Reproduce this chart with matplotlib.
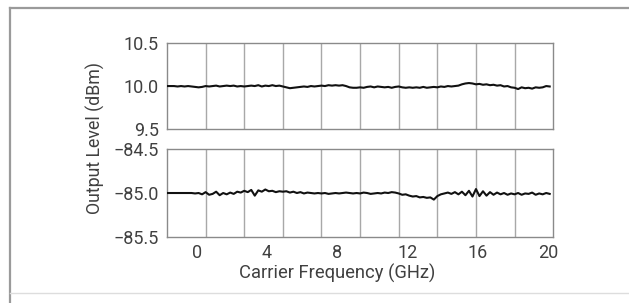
import matplotlib.pyplot as plt
import numpy as np
from matplotlib.lines import Line2D

plt.rcParams['font.family'] = ['Roboto', 'DejaVu Sans']

# trace samples (GHz span -1.7 .. 20.1)
level_high = [10.00, 10.00, 10.00, 9.995, 10.00, 9.995, 10.00, 9.995, 9.99, 9.985,
              9.99, 10.00, 9.995, 10.00, 10.005, 9.995, 10.00, 10.005, 10.00, 10.005,
              9.995, 10.00, 9.995, 10.00, 10.005, 10.00, 10.01, 9.995, 10.005, 10.00,
              10.01, 10.00, 10.005, 9.995, 9.985, 9.975, 9.98, 9.985, 9.99, 9.995,
              9.99, 10.00, 9.995, 10.00, 10.005, 10.00, 10.01, 10.005, 10.01, 10.005,
              10.01, 10.00, 9.985, 9.98, 9.98, 9.985, 9.98, 9.99, 9.995, 9.985,
              9.995, 9.99, 9.985, 9.99, 9.98, 9.99, 9.995, 9.985, 9.98, 9.985,
              9.98, 9.985, 9.98, 9.99, 9.98, 9.985, 9.99, 9.985, 9.995, 9.99,
              10.00, 9.995, 10.00, 10.005, 10.02, 10.03, 10.035, 10.03, 10.02, 10.025,
              10.015, 10.02, 10.01, 10.015, 10.005, 10.01, 9.995, 10.00, 9.985, 9.98,
              9.965, 9.985, 9.975, 9.98, 9.97, 9.985, 9.98, 9.985, 10.00, 9.995]

level_low = [-85.00, -85.00, -85.00, -85.00, -85.00, -85.00, -85.00, -85.00, -85.005, -85.00,
             -85.015, -84.99, -85.02, -85.01, -84.985, -85.025, -85.00, -85.015, -84.995, -85.01,
             -84.985, -84.995, -84.975, -84.99, -84.965, -85.03, -84.97, -84.985, -84.96, -84.98,
             -84.975, -84.99, -84.98, -84.985, -84.98, -84.995, -84.985, -85.00, -84.99, -85.005,
             -84.995, -85.00, -85.005, -85.00, -85.005, -85.00, -85.01, -85.005, -85.00, -85.005,
             -85.00, -84.995, -85.00, -85.005, -85.00, -85.005, -84.995, -85.00, -85.01, -85.005,
             -85.00, -85.005, -84.995, -85.00, -84.99, -84.995, -85.005, -85.02, -85.015, -85.03,
             -85.04, -85.035, -85.05, -85.045, -85.055, -85.05, -85.075, -85.035, -85.015, -85.005,
             -84.995, -85.01, -84.99, -85.015, -84.985, -85.025, -84.975, -85.04, -84.955, -85.035,
             -84.98, -85.03, -84.99, -85.02, -84.995, -85.015, -85.00, -85.02, -85.005, -85.015,
             -85.00, -85.02, -85.005, -85.01, -84.995, -85.02, -85.005, -85.015, -85.00, -85.01]

x_ticks = [0, 4, 8, 12, 16, 20]
high_ticks = [9.5, 10.0, 10.5]
low_ticks = [-85.5, -85.0, -84.5]

text_col = '#404040'
fig = plt.figure(figsize=(6.29, 3.03), dpi=100)

ax1 = fig.add_axes([0.2655, 0.574, 0.614, 0.284])
ax2 = fig.add_axes([0.2655, 0.218, 0.614, 0.290])

x_lo, x_hi = -1.7, 20.3
for ax, vals, yt in [(ax1, level_high, high_ticks), (ax2, level_low, low_ticks)]:
    f = np.linspace(-1.7, 20.1, len(vals))
    for g in np.linspace(x_lo, x_hi, 11)[1:-1]:
        ax.axvline(g, color='#a8a8a8', lw=1.0, zorder=1)
    ax.plot(f, vals, color='#111111', lw=1.5, zorder=3)
    ax.set_xlim(x_lo, x_hi)
    ax.set_ylim(yt[0], yt[-1])
    ax.set_yticks(yt)
    ax.set_yticklabels([f'{v:.1f}'.replace('-', '\u2212') for v in yt])
    ax.set_xticks(x_ticks)
    ax.tick_params(length=0, labelsize=13, colors=text_col, pad=6)
    for s in ax.spines.values():
        s.set_color('#8a8a8a')
        s.set_linewidth(1.0)

ax1.set_xticklabels([])
ax2.set_xticklabels([str(v) for v in x_ticks])
ax2.tick_params(axis='x', pad=5)

fig.text(0.151, 0.545, 'Output Level (dBm)', rotation=90, ha='center', va='center',
         fontsize=12.8, color=text_col)
fig.text(0.536, 0.098, 'Carrier Frequency (GHz)', ha='center', va='center',
         fontsize=13.2, color=text_col)

# outer frame
fig.add_artist(Line2D([10/629, 1.0], [1 - 8/303, 1 - 8/303], color='#9a9a9a', lw=1.6))
fig.add_artist(Line2D([10/629, 10/629], [0, 1 - 8/303], color='#9a9a9a', lw=1.6))
fig.add_artist(Line2D([10/629, 1.0], [1 - 293/303, 1 - 293/303], color='#dddddd', lw=1.0))

fig.savefig('out.png', dpi=100)
